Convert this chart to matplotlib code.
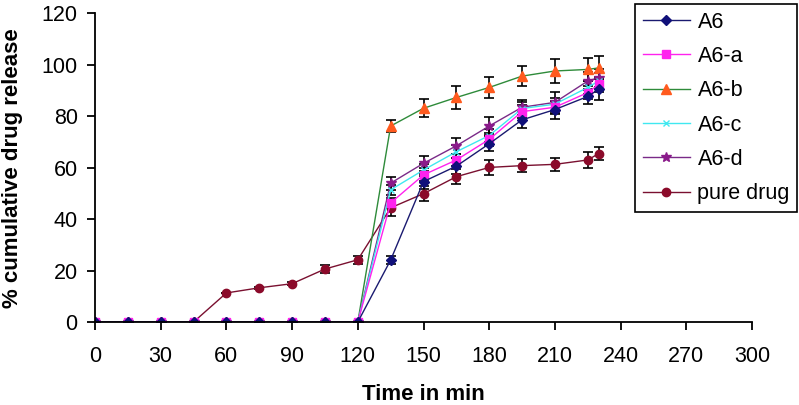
import numpy as np
import matplotlib
matplotlib.use("Agg")
from matplotlib import pyplot as plt
from matplotlib.lines import Line2D

plt.rcParams['font.family'] = ['Liberation Sans', 'DejaVu Sans']

# sampling times (min)
time = [0, 15, 30, 45, 60, 75, 90, 105, 120, 135, 150, 165, 180, 195, 210, 225, 230]

# % cumulative drug release
a6 = [0, 0, 0, 0, 0, 0, 0, 0, 0, 24.1, 54.6, 60.6, 69.3, 78.6, 82.6, 87.7, 90.5]
a6_a = [0, 0, 0, 0, 0, 0, 0, 0, 0, 46.3, 57.2, 63.0, 71.0, 81.8, 83.5, 89.2, 92.4]
a6_b = [0, 0, 0, 0, 0, 0, 0, 0, 0, 76.2, 83.1, 87.3, 91.2, 95.6, 97.6, 98.2, 98.8]
a6_c = [0, 0, 0, 0, 0, 0, 0, 0, 0, 51.4, 59.1, 66.2, 72.5, 83.0, 84.7, 91.2, 93.7]
a6_d = [0, 0, 0, 0, 0, 0, 0, 0, 0, 54.0, 61.7, 68.5, 76.2, 83.5, 85.4, 93.7, 95.0]
pure = [0, 0, 0, 0, 11.3, 13.3, 14.9, 20.6, 24.2, 44.4, 49.9, 56.5, 60.1, 60.8, 61.3, 63.0, 65.5]

# error bars (sd)
err_a6 = [0, 0, 0, 0, 0, 0, 0, 0, 0, 1.5, 3, 3, 3, 3, 3.5, 3, 4]
err_a6_a = [0, 0, 0, 0, 0, 0, 0, 0, 0, 2, 2.5, 2.5, 2.5, 2.5, 2.5, 2.5, 3]
err_a6_b = [0, 0, 0, 0, 0, 0, 0, 0, 0, 2.5, 3.5, 4.5, 4, 4, 4.5, 4.5, 4.5]
err_a6_c = [0, 0, 0, 0, 0, 0, 0, 0, 0, 2, 2.5, 2.5, 2.5, 2.5, 2.5, 2.5, 3]
err_a6_d = [0, 0, 0, 0, 0, 0, 0, 0, 0, 2.5, 3, 3, 3.5, 3, 4, 3.5, 3.5]
err_pure = [0, 0, 0, 0, 0, 0.5, 0.5, 1.5, 1.5, 3, 3, 3, 3, 2.5, 2.5, 3, 2.5]

labels = ['A6', 'A6-a', 'A6-b', 'A6-c', 'A6-d', 'pure drug']

handles = {}


def plot_series(ax, y, err, label, line_col, mark_col, marker, ms):
    ax.errorbar(time, y, yerr=err, color=line_col, lw=1.0, marker=marker,
                ms=ms, mfc=mark_col, mec=mark_col, ecolor='black',
                elinewidth=1.2, capsize=3.5, capthick=1.2)
    handles[label] = Line2D([], [], color=line_col, lw=1.0, marker=marker,
                            ms=ms, mfc=mark_col, mec=mark_col)


fig = plt.figure(figsize=(7.99, 4.05), dpi=100)
ax = fig.add_axes([0.1189, 0.2049, 0.8223, 0.7621])

plot_series(ax, pure, err_pure, labels[5], '#7a1030', '#8b0a2a', 'o', 6)
plot_series(ax, a6_b, err_a6_b, labels[2], '#2e8b3a', '#ff5a1e', '^', 7)
plot_series(ax, a6_d, err_a6_d, labels[4], '#7a2a88', '#8a1a8a', '*', 7)
plot_series(ax, a6_c, err_a6_c, labels[3], '#40e8f0', '#40e8f0', 'x', 5)
plot_series(ax, a6_a, err_a6_a, labels[1], '#ff22ee', '#ff22ee', 's', 6)
plot_series(ax, a6, err_a6, labels[0], '#1a1a70', '#10107a', 'D', 5)

ax.set_xlim(0, 300)
ax.set_ylim(0, 120)
ax.set_xticks(np.arange(0, 301, 30))
ax.set_yticks(np.arange(0, 121, 20))
for s in ['top', 'right']:
    ax.spines[s].set_visible(False)
for s in ['left', 'bottom']:
    ax.spines[s].set_linewidth(1.3)
ax.tick_params(direction='out', length=5.5, width=1.3, labelsize=15.5)
ax.tick_params(axis='x', pad=12)
ax.tick_params(axis='y', pad=7)
ax.set_xlabel('Time in min', fontsize=16, fontweight='bold', labelpad=12)
ax.set_ylabel('% cumulative drug release', fontsize=16, fontweight='bold', labelpad=13)

leg = fig.legend([handles[l] for l in labels], labels, loc='upper right',
                 bbox_to_anchor=(0.998, 0.99), fontsize=15.5, frameon=True,
                 fancybox=False, edgecolor='black', handlelength=2.2,
                 labelspacing=0.62, borderpad=0.35, handletextpad=0.35,
                 borderaxespad=0.0)
leg.get_frame().set_linewidth(1.2)
leg.get_frame().set_alpha(1.0)

fig.savefig('out.png', dpi=100)
